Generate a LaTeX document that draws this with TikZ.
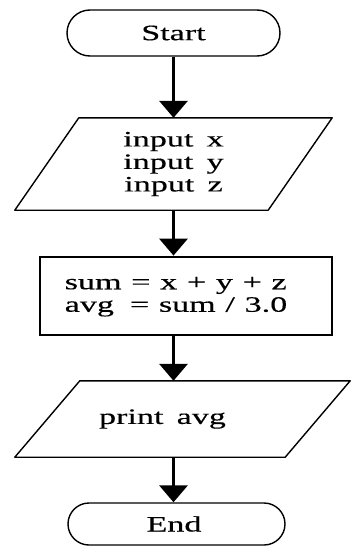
\documentclass[tikz,border=0pt]{standalone}
\usepackage{fontspec}
\setmainfont[FakeStretch=1.55, WordSpace=1.55, FakeBold=0.4]{Liberation Serif}
\usetikzlibrary{shapes.misc,arrows.meta}
\newcommand\narrowspaces{\spaceskip=9.7pt\relax}
\begin{document}
\begin{tikzpicture}[x=1pt,y=-1pt,
  every node/.style={font=\fontsize{22}{22.5}\selectfont, inner sep=0pt},
  term/.style={rounded rectangle, draw, line width=1.4pt},
  iobox/.style={rectangle, align=center},
  ioline/.style={line width=1.4pt, line join=round},
  proc/.style={rectangle, draw, line width=2.8pt},
  arr/.style={line width=3.5pt, -{Triangle[length=17pt,width=28pt]}}]
\useasboundingbox (0,0) rectangle (351,546);
\node[term, minimum width=213pt, minimum height=46pt] (start) at (173.5,33) {Start};
\node[iobox, minimum width=317pt, minimum height=92pt] (in1) at (173.5,164)
      {input x\\input y\\input z};
\draw[ioline] (in1.south west) -- ([xshift=-64pt]in1.south east) -- (in1.north east)
      -- ([xshift=64pt]in1.north west) -- cycle;
\node[proc, minimum width=292pt, minimum height=78pt] (calc) at (186,296)
      {\narrowspaces\begin{tabular}{@{}l@{}}sum = x + y + z\\avg\hspace{16pt}= sum / 3.0\end{tabular}\hspace*{20pt}};
\node[iobox, minimum width=335pt, minimum height=76pt] (in2) at (182.5,419)
      {print avg\hspace*{40pt}};
\draw[ioline] (in2.south west) -- ([xshift=-65pt]in2.south east) -- (in2.north east)
      -- ([xshift=65pt]in2.north west) -- cycle;
\node[term, minimum width=217pt, minimum height=42pt] (stop) at (176.5,524) {End\hspace*{5pt}};
\draw[arr] (start.south) -- (start.south |- in1.north);
\draw[arr] (in1.south -| start.south) -- (calc.north -| start.south);
\draw[arr] (calc.south -| start.south) -- (in2.north -| start.south);
\draw[arr] (in2.south -| start.south) -- (stop.north -| start.south);
\end{tikzpicture}
\end{document}
